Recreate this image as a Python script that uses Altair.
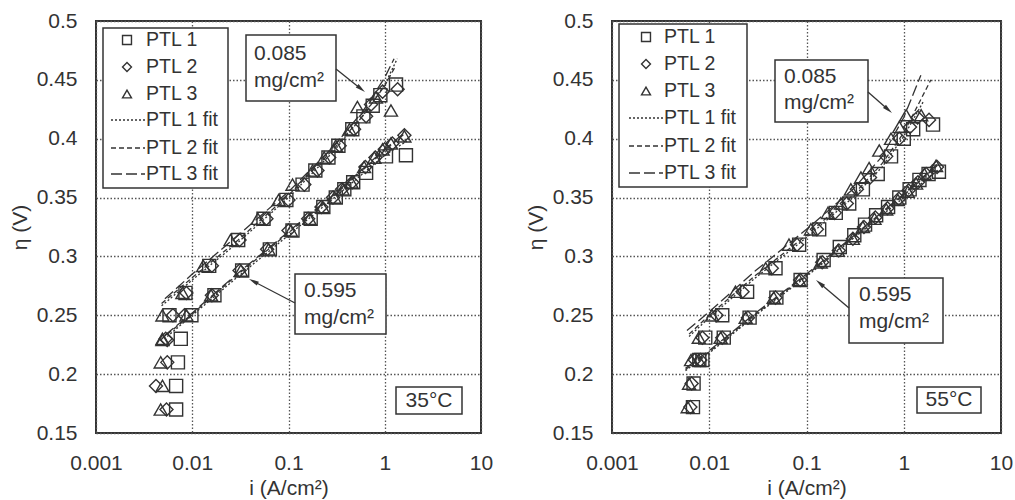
import math

import altair as alt
import pandas as pd

FONT = "Liberation Sans"
INK = "#333333"
GRID = "#555555"

PTLS = ["PTL 1", "PTL 2", "PTL 3"]
SHAPES = ["square", "diamond", "triangle-up"]
DASHES = [[2, 2], [5, 3], [11, 4]]
X_TICKS = [0.001, 0.01, 0.1, 1, 10]
Y_TICKS = [0.15, 0.2, 0.25, 0.3, 0.35, 0.4, 0.45, 0.5]

# ---------------- 35 °C : measured points (current A/cm², overpotential V)
T35_L085_P1_I = [0.0068, 0.0068, 0.0071, 0.0076, 0.0058, 0.0085, 0.015, 0.030, 0.055, 0.095, 0.14, 0.19, 0.26, 0.33, 0.46, 0.60, 0.75, 0.90, 1.31]
T35_L085_P1_V = [0.170, 0.190, 0.210, 0.230, 0.250, 0.269, 0.292, 0.314, 0.332, 0.348, 0.361, 0.373, 0.384, 0.394, 0.408, 0.419, 0.428, 0.437, 0.446]
T35_L085_P2_I = [0.0054, 0.0042, 0.0055, 0.0053, 0.0063, 0.0087, 0.016, 0.031, 0.059, 0.10, 0.146, 0.20, 0.265, 0.34, 0.48, 0.64, 0.72, 0.95, 1.36]
T35_L085_P2_V = [0.170, 0.190, 0.210, 0.230, 0.250, 0.269, 0.292, 0.314, 0.332, 0.348, 0.361, 0.373, 0.384, 0.394, 0.408, 0.419, 0.429, 0.440, 0.442]
T35_L085_P3_I = [0.0047, 0.0049, 0.0047, 0.0049, 0.0049, 0.0079, 0.013, 0.025, 0.048, 0.079, 0.11, 0.178, 0.235, 0.31, 0.43, 0.52, 0.81, 1.16]
T35_L085_P3_V = [0.170, 0.190, 0.210, 0.230, 0.250, 0.269, 0.292, 0.314, 0.332, 0.348, 0.361, 0.373, 0.384, 0.394, 0.408, 0.427, 0.435, 0.424]

T35_L595_P1_I = [0.0098, 0.017, 0.033, 0.064, 0.11, 0.17, 0.23, 0.31, 0.38, 0.47, 0.64, 1.03, 1.66]
T35_L595_P1_V = [0.250, 0.267, 0.288, 0.306, 0.322, 0.332, 0.342, 0.350, 0.357, 0.363, 0.371, 0.385, 0.386]
T35_L595_P2_I = [0.0055, 0.0083, 0.016, 0.031, 0.060, 0.10, 0.16, 0.22, 0.29, 0.36, 0.46, 0.63, 0.80, 1.0, 1.2, 1.6]
T35_L595_P2_V = [0.229, 0.250, 0.267, 0.288, 0.306, 0.322, 0.332, 0.342, 0.350, 0.357, 0.363, 0.376, 0.384, 0.391, 0.396, 0.403]
T35_L595_P3_I = [0.0049, 0.0087, 0.0157, 0.032, 0.062, 0.106, 0.165, 0.226, 0.30, 0.365, 0.45, 0.61, 0.78, 0.95, 1.16, 1.6]
T35_L595_P3_V = [0.229, 0.250, 0.267, 0.288, 0.306, 0.322, 0.332, 0.342, 0.350, 0.357, 0.363, 0.376, 0.384, 0.391, 0.396, 0.402]

# ---------------- 35 °C : fitted curves
T35_FIT085_P1_I = [0.0048, 0.01, 0.03, 0.1, 0.3, 0.6, 1.0, 1.35]
T35_FIT085_P1_V = [0.258, 0.280, 0.312, 0.350, 0.390, 0.420, 0.446, 0.468]
T35_FIT085_P2_I = [0.0048, 0.01, 0.03, 0.1, 0.3, 0.6, 1.0, 1.3]
T35_FIT085_P2_V = [0.260, 0.282, 0.314, 0.352, 0.392, 0.420, 0.445, 0.462]
T35_FIT085_P3_I = [0.0052, 0.01, 0.03, 0.1, 0.3, 0.6, 1.0, 1.25]
T35_FIT085_P3_V = [0.264, 0.285, 0.318, 0.355, 0.394, 0.424, 0.452, 0.468]

T35_FIT595_P1_I = [0.0055, 0.01, 0.03, 0.1, 0.3, 1.0, 1.7]
T35_FIT595_P1_V = [0.232, 0.250, 0.283, 0.318, 0.350, 0.386, 0.398]
T35_FIT595_P2_I = [0.0055, 0.01, 0.03, 0.1, 0.3, 1.0, 1.6]
T35_FIT595_P2_V = [0.234, 0.251, 0.285, 0.320, 0.352, 0.390, 0.404]
T35_FIT595_P3_I = [0.0052, 0.01, 0.03, 0.1, 0.3, 1.0, 1.6]
T35_FIT595_P3_V = [0.233, 0.252, 0.286, 0.321, 0.353, 0.391, 0.405]

# ---------------- 55 °C : measured points
T55_L085_P1_I = [0.0068, 0.0069, 0.0079, 0.0091, 0.0136, 0.0245, 0.048, 0.084, 0.135, 0.20, 0.275, 0.38, 0.54, 0.74, 1.0, 1.25, 2.0]
T55_L085_P1_V = [0.172, 0.192, 0.212, 0.231, 0.250, 0.270, 0.290, 0.310, 0.323, 0.337, 0.345, 0.357, 0.370, 0.385, 0.400, 0.408, 0.412]
T55_L085_P2_I = [0.0064, 0.0066, 0.0071, 0.0085, 0.0119, 0.022, 0.044, 0.080, 0.128, 0.195, 0.26, 0.33, 0.45, 0.66, 0.90, 1.16, 1.39, 1.82]
T55_L085_P2_V = [0.172, 0.192, 0.212, 0.231, 0.250, 0.270, 0.290, 0.310, 0.323, 0.337, 0.345, 0.357, 0.367, 0.385, 0.400, 0.410, 0.418, 0.416]
T55_L085_P3_I = [0.0060, 0.0062, 0.0065, 0.0078, 0.0107, 0.0186, 0.038, 0.066, 0.111, 0.166, 0.226, 0.286, 0.363, 0.44, 0.56, 0.74, 0.90, 1.06, 1.51]
T55_L085_P3_V = [0.172, 0.192, 0.212, 0.231, 0.250, 0.270, 0.290, 0.310, 0.323, 0.337, 0.345, 0.357, 0.367, 0.375, 0.390, 0.400, 0.410, 0.420, 0.420]

T55_L595_P1_I = [0.0085, 0.0141, 0.026, 0.049, 0.087, 0.15, 0.22, 0.31, 0.40, 0.52, 0.69, 0.90, 1.15, 1.45, 1.8, 2.3]
T55_L595_P1_V = [0.212, 0.231, 0.248, 0.265, 0.280, 0.297, 0.308, 0.318, 0.327, 0.335, 0.342, 0.350, 0.357, 0.365, 0.370, 0.372]
T55_L595_P2_I = [0.0081, 0.0136, 0.025, 0.048, 0.086, 0.145, 0.215, 0.30, 0.39, 0.51, 0.68, 0.89, 1.12, 1.4, 1.7, 2.2]
T55_L595_P2_V = [0.212, 0.231, 0.248, 0.265, 0.280, 0.295, 0.305, 0.315, 0.325, 0.333, 0.341, 0.349, 0.356, 0.363, 0.370, 0.376]
T55_L595_P3_I = [0.0078, 0.0131, 0.0237, 0.046, 0.084, 0.14, 0.21, 0.30, 0.38, 0.50, 0.66, 0.87, 1.10, 1.34, 1.63, 2.15]
T55_L595_P3_V = [0.212, 0.231, 0.248, 0.265, 0.280, 0.295, 0.305, 0.315, 0.325, 0.332, 0.340, 0.348, 0.355, 0.362, 0.370, 0.377]

# ---------------- 55 °C : fitted curves
T55_FIT085_P1_I = [0.0062, 0.01, 0.03, 0.1, 0.3, 0.6, 1.0, 1.6]
T55_FIT085_P1_V = [0.232, 0.248, 0.282, 0.316, 0.350, 0.376, 0.402, 0.432]
T55_FIT085_P2_I = [0.0062, 0.01, 0.03, 0.1, 0.3, 0.6, 1.0, 1.9]
T55_FIT085_P2_V = [0.234, 0.250, 0.284, 0.318, 0.352, 0.379, 0.405, 0.450]
T55_FIT085_P3_I = [0.0059, 0.01, 0.03, 0.1, 0.3, 0.6, 1.0, 1.5]
T55_FIT085_P3_V = [0.237, 0.253, 0.288, 0.323, 0.357, 0.385, 0.418, 0.454]

T55_FIT595_P1_I = [0.0057, 0.01, 0.03, 0.1, 0.3, 1.0, 2.3]
T55_FIT595_P1_V = [0.203, 0.218, 0.250, 0.283, 0.315, 0.350, 0.374]
T55_FIT595_P2_I = [0.0057, 0.01, 0.03, 0.1, 0.3, 1.0, 2.2]
T55_FIT595_P2_V = [0.204, 0.219, 0.251, 0.284, 0.316, 0.352, 0.377]
T55_FIT595_P3_I = [0.0057, 0.01, 0.03, 0.1, 0.3, 1.0, 2.2]
T55_FIT595_P3_V = [0.205, 0.220, 0.252, 0.285, 0.317, 0.353, 0.378]

MEAS_35 = [
    ("0.085", "PTL 1", T35_L085_P1_I, T35_L085_P1_V),
    ("0.085", "PTL 2", T35_L085_P2_I, T35_L085_P2_V),
    ("0.085", "PTL 3", T35_L085_P3_I, T35_L085_P3_V),
    ("0.595", "PTL 1", T35_L595_P1_I, T35_L595_P1_V),
    ("0.595", "PTL 2", T35_L595_P2_I, T35_L595_P2_V),
    ("0.595", "PTL 3", T35_L595_P3_I, T35_L595_P3_V),
]
FITS_35 = [
    ("0.085", "PTL 1", T35_FIT085_P1_I, T35_FIT085_P1_V),
    ("0.085", "PTL 2", T35_FIT085_P2_I, T35_FIT085_P2_V),
    ("0.085", "PTL 3", T35_FIT085_P3_I, T35_FIT085_P3_V),
    ("0.595", "PTL 1", T35_FIT595_P1_I, T35_FIT595_P1_V),
    ("0.595", "PTL 2", T35_FIT595_P2_I, T35_FIT595_P2_V),
    ("0.595", "PTL 3", T35_FIT595_P3_I, T35_FIT595_P3_V),
]
MEAS_55 = [
    ("0.085", "PTL 1", T55_L085_P1_I, T55_L085_P1_V),
    ("0.085", "PTL 2", T55_L085_P2_I, T55_L085_P2_V),
    ("0.085", "PTL 3", T55_L085_P3_I, T55_L085_P3_V),
    ("0.595", "PTL 1", T55_L595_P1_I, T55_L595_P1_V),
    ("0.595", "PTL 2", T55_L595_P2_I, T55_L595_P2_V),
    ("0.595", "PTL 3", T55_L595_P3_I, T55_L595_P3_V),
]
FITS_55 = [
    ("0.085", "PTL 1", T55_FIT085_P1_I, T55_FIT085_P1_V),
    ("0.085", "PTL 2", T55_FIT085_P2_I, T55_FIT085_P2_V),
    ("0.085", "PTL 3", T55_FIT085_P3_I, T55_FIT085_P3_V),
    ("0.595", "PTL 1", T55_FIT595_P1_I, T55_FIT595_P1_V),
    ("0.595", "PTL 2", T55_FIT595_P2_I, T55_FIT595_P2_V),
    ("0.595", "PTL 3", T55_FIT595_P3_I, T55_FIT595_P3_V),
]

ONE = pd.DataFrame({"k": [0]})


def table(series):
    rows = []
    for grp, ptl, cur, eta in series:
        for c, e in zip(cur, eta):
            rows.append({"grp": grp, "ptl": ptl, "i": c, "v": e})
    return pd.DataFrame(rows)


def box(x0, y0, x1, y1):
    return alt.Chart(ONE).mark_rect(fill="white", stroke=INK, strokeWidth=1.5).encode(
        x=alt.value(x0), x2=alt.value(x1), y=alt.value(y0), y2=alt.value(y1)
    )


def label(x, y, txt, size, align="left"):
    return alt.Chart(ONE).mark_text(
        text=txt, font=FONT, fontSize=size, color=INK, align=align, baseline="middle"
    ).encode(x=alt.value(x), y=alt.value(y))


def arrow(x0, y0, x1, y1):
    ang = math.degrees(math.atan2(x1 - x0, -(y1 - y0))) % 360
    length = math.hypot(x1 - x0, y1 - y0)
    ux, uy = (x1 - x0) / length, (y1 - y0) / length
    head = 5
    cx, cy = x1 - ux * head, y1 - uy * head
    shaft = alt.Chart(ONE).mark_rule(color=INK, strokeWidth=1.3).encode(
        x=alt.value(x0), y=alt.value(y0), x2=alt.value(cx), y2=alt.value(cy)
    )
    tip = alt.Chart(ONE).mark_point(
        shape="M0,-1L0.45,1L-0.45,1Z", angle=ang, filled=True, color=INK, size=100, opacity=1
    ).encode(x=alt.value(cx), y=alt.value(cy))
    return [shaft, tip]


def note(x0, y0, x1, y1, lines, dx, dys):
    layers = [box(x0, y0, x1, y1)]
    for txt, dy in zip(lines, dys):
        layers.append(label(x0 + dx, y0 + dy, txt, 21))
    return layers


def legend(cfg):
    layers = [box(*cfg["box"])]
    for k, ptl in enumerate(PTLS):
        y = cfg["rows"][k]
        layers.append(
            alt.Chart(ONE).mark_point(
                shape=SHAPES[k], filled=False, color=INK, strokeWidth=1.4, size=80, opacity=1
            ).encode(x=alt.value(cfg["sym"]), y=alt.value(y))
        )
        layers.append(label(cfg["text"], y, ptl, 19.5))
    for k, ptl in enumerate(PTLS):
        y = cfg["rows"][3 + k]
        layers.append(
            alt.Chart(ONE).mark_rule(color=INK, strokeWidth=1.3, strokeDash=DASHES[k]).encode(
                x=alt.value(cfg["dash"][0]), x2=alt.value(cfg["dash"][1]), y=alt.value(y)
            )
        )
        layers.append(label(cfg["text"], y, ptl + " fit", 19.5))
    return layers


def panel(meas, fits, cfg, width):
    xenc = alt.X(
        "i:Q",
        scale=alt.Scale(type="log", domain=[0.001, 10]),
        axis=alt.Axis(values=X_TICKS, format="~g", title="i (A/cm²)"),
    )
    yenc = alt.Y(
        "v:Q",
        scale=alt.Scale(domain=[0.15, 0.5]),
        axis=alt.Axis(values=Y_TICKS, format="~g", title="η (V)"),
    )
    fit_lines = alt.Chart(table(fits)).mark_line(color=INK, strokeWidth=1.3).encode(
        x=xenc,
        y=yenc,
        strokeDash=alt.StrokeDash("ptl:N", scale=alt.Scale(domain=PTLS, range=DASHES), legend=None),
        detail="grp:N",
    )
    points = alt.Chart(table(meas)).mark_point(
        filled=False, color=INK, strokeWidth=1.4, size=170, opacity=1
    ).encode(
        x=xenc,
        y=yenc,
        shape=alt.Shape("ptl:N", scale=alt.Scale(domain=PTLS, range=SHAPES), legend=None),
    )
    layers = [fit_lines, points]
    layers += note(*cfg["hi_box"], ["0.085", "mg/cm²"], cfg["hi_dx"], cfg["hi_dy"])
    layers += arrow(*cfg["hi_arrow"])
    layers += note(*cfg["lo_box"], ["0.595", "mg/cm²"], cfg["lo_dx"], cfg["lo_dy"])
    layers += arrow(*cfg["lo_arrow"])
    tb = cfg["temp_box"]
    layers += [box(*tb), label((tb[0] + tb[2]) / 2, (tb[1] + tb[3]) / 2, cfg["temp"], 21, "center")]
    layers += legend(cfg["legend"])
    return alt.layer(*layers).properties(width=width, height=412)


LEFT = {
    "hi_box": (150, 14, 240, 80), "hi_dx": 8, "hi_dy": (19, 46),
    "hi_arrow": (240, 48, 269, 71),
    "lo_box": (199, 253, 290, 313), "lo_dx": 9, "lo_dy": (17, 44),
    "lo_arrow": (199, 282, 153, 258),
    "temp_box": (300, 366, 366, 393), "temp": "35°C",
    "legend": {"box": (7, 7, 132, 167), "rows": [19, 46, 73, 99, 127, 153],
               "sym": 31, "text": 50, "dash": (15, 49)},
}
RIGHT = {
    "hi_box": (163, 39, 256, 101), "hi_dx": 9, "hi_dy": (17, 43),
    "hi_arrow": (256, 71, 280, 92),
    "lo_box": (237, 257, 331, 322), "lo_dx": 10, "lo_dy": (17, 44),
    "lo_arrow": (237, 287, 204, 259),
    "temp_box": (305, 366, 369, 392), "temp": "55°C",
    "legend": {"box": (7, 3, 135, 166), "rows": [16, 43, 70, 97, 125, 152],
               "sym": 34, "text": 52, "dash": (17, 51)},
}

left = panel(MEAS_35, FITS_35, LEFT, 385)
right = panel(MEAS_55, FITS_55, RIGHT, 389)

chart = (
    alt.hconcat(left, right, spacing=30)
    .properties(padding={"left": 8, "top": 9, "right": 0, "bottom": 0})
    .configure(font=FONT)
    .configure_view(stroke=INK, strokeWidth=2)
    .configure_axis(
        labelFont=FONT, titleFont=FONT, labelFontSize=21, titleFontSize=21,
        labelColor=INK, titleColor=INK, titleFontWeight="normal",
        ticks=False, domain=False, grid=True, gridColor=GRID, gridDash=[1.5, 2],
        gridWidth=1.3, gridOpacity=1, labelPadding=19, labelFlush=False, labelOverlap=False,
    )
    .configure_axisX(titlePadding=4)
    .configure_axisY(titlePadding=6)
)

chart.save("out.html", embed_options={"renderer": "svg", "actions": False})
